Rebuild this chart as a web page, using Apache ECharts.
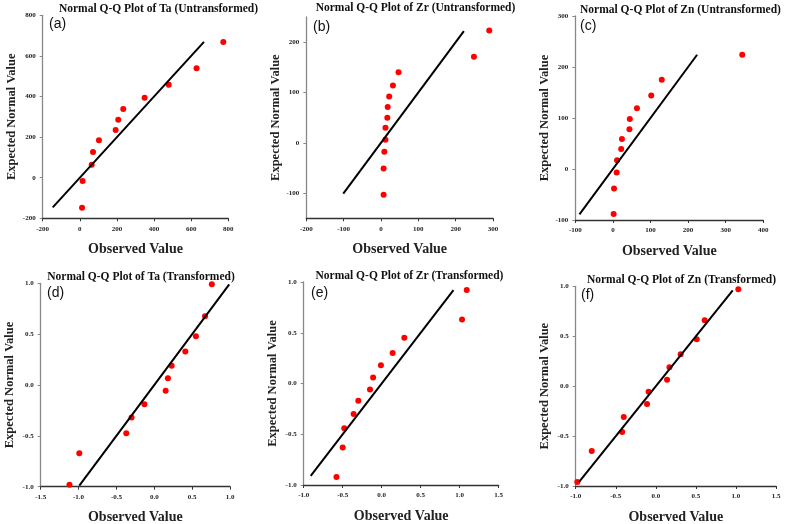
<!DOCTYPE html>
<html>
<head>
<meta charset="utf-8">
<script src="https://cdn.jsdelivr.net/npm/echarts@6/dist/echarts.min.js"></script>
<style>
html,body{margin:0;padding:0;background:#fff;}
#main{width:789px;height:524px;}
</style>
</head>
<body>
<div id="main"></div>
<script>
// ---- Data ----
var taUntransObs = [12, 15, 64, 71, 103, 193, 207, 234, 349, 479, 629, 773];
var taUntransExp = [-148, -16, 64, 127, 184, 235, 286, 339, 394, 458, 539, 669];
var taUntransLine = [-146, 669];

var zrUntransObs = [7, 7, 9, 12, 12, 17, 18, 22, 32, 47, 249, 290];
var zrUntransExp = [-103, -51, -18, 6, 30, 50, 71, 92, 114, 140, 171, 223];
var zrUntransLine = [-101, 222];

var znUntransObs = [2, 3, 10, 11, 22, 24, 44, 45, 64, 102, 130, 344];
var znUntransExp = [-88, -38, -7, 17, 39, 59, 78, 98, 119, 144, 175, 224];
var znUntransLine = [-89, 224];

var taTransObs = [-1.12, -0.99, -0.37, -0.30, -0.13, 0.15, 0.18, 0.23, 0.41, 0.55, 0.67, 0.76];
var taTransExp = [-0.98, -0.67, -0.475, -0.32, -0.19, -0.056, 0.066, 0.19, 0.33, 0.48, 0.675, 0.99];
var taTransLine = [-0.99, 0.99];

var zrTransObs = [-0.58, -0.50, -0.48, -0.36, -0.30, -0.15, -0.11, -0.01, 0.14, 0.29, 1.03, 1.09];
var zrTransExp = [-0.92, -0.63, -0.44, -0.30, -0.17, -0.06, 0.06, 0.18, 0.30, 0.45, 0.63, 0.92];
var zrTransLine = [-0.91, 0.92];

var znTransObs = [-0.98, -0.80, -0.42, -0.40, -0.11, -0.09, 0.14, 0.17, 0.31, 0.51, 0.61, 1.03];
var znTransExp = [-0.96, -0.65, -0.46, -0.31, -0.18, -0.055, 0.065, 0.19, 0.32, 0.47, 0.66, 0.97];
var znTransLine = [-0.96, 0.96];

// ---- Tick labels ----
var taUntransXTicks = [-200, 0, 200, 400, 600, 800];
var taUntransYTicks = [-200, 0, 200, 400, 600, 800];
var zrUntransXTicks = [-200, -100, 0, 100, 200, 300];
var zrUntransYTicks = [-100, 0, 100, 200];
var znUntransXTicks = [-100, 0, 100, 200, 300, 400];
var znUntransYTicks = [-100, 0, 100, 200, 300];
var taTransXTicks = [-1.5, -1.0, -0.5, 0.0, 0.5, 1.0];
var transXTicks = [-1.0, -0.5, 0.0, 0.5, 1.0, 1.5];
var transYTicks = [-1.0, -0.5, 0.0, 0.5, 1.0];

var titles = [
  'Normal Q-Q Plot of Ta (Untransformed)',
  'Normal Q-Q Plot of Zr (Untransformed)',
  'Normal Q-Q Plot of Zn (Untransformed)',
  'Normal Q-Q Plot of Ta (Transformed)',
  'Normal Q-Q Plot of Zr (Transformed)',
  'Normal Q-Q Plot of Zn (Transformed)'
];
var panelLabels = ['(a)', '(b)', '(c)', '(d)', '(e)', '(f)'];
var xName = 'Observed Value';
var yName = 'Expected Normal Value';

// ---- Layout ----
var panels = [
  {grid: [42.7, 15.3, 185.6, 203], xr: [-200, 800], yr: [-200, 800], xt: taUntransXTicks, yt: taUntransYTicks, obs: taUntransObs, exp: taUntransExp, line: taUntransLine, dec: 0, title: [158.5, 9], lab: [49, 24]},
  {grid: [306.3, 17, 186.7, 201.3], xr: [-200, 300], yr: [-150, 250], xt: zrUntransXTicks, yt: zrUntransYTicks, obs: zrUntransObs, exp: zrUntransExp, line: zrUntransLine, dec: 0, title: [415.5, 8], lab: [313, 27]},
  {grid: [575.3, 16, 188, 204], xr: [-100, 400], yr: [-100, 300], xt: znUntransXTicks, yt: znUntransYTicks, obs: znUntransObs, exp: znUntransExp, line: znUntransLine, dec: 0, title: [680.5, 10], lab: [580, 26]},
  {grid: [40.7, 283.3, 189.3, 203.4], xr: [-1.5, 1.0], yr: [-1, 1], xt: taTransXTicks, yt: transYTicks, obs: taTransObs, exp: taTransExp, line: taTransLine, dec: 1, title: [141, 277], lab: [47, 293]},
  {grid: [303.7, 282, 195, 203], xr: [-1.0, 1.5], yr: [-1, 1], xt: transXTicks, yt: transYTicks, obs: zrTransObs, exp: zrTransExp, line: zrTransLine, dec: 1, title: [409.5, 276], lab: [311, 293]},
  {grid: [575.7, 286.3, 200.3, 199.7], xr: [-1.0, 1.5], yr: [-1, 1], xt: transXTicks, yt: transYTicks, obs: znTransObs, exp: znTransExp, line: znTransLine, dec: 1, title: [681.5, 280], lab: [581, 295]}
];

var serif = '"Liberation Serif", "Times New Roman", serif';
var grids = [], xAxes = [], yAxes = [], series = [], graphics = [];

panels.forEach(function (p, i) {
  grids.push({left: p.grid[0], top: p.grid[1], width: p.grid[2], height: p.grid[3], containLabel: false, outerBoundsMode: 'none'});
  var fmt = (function (d) { return function (v) { return Number(v).toFixed(d); }; })(p.dec);
  xAxes.push({
    type: 'value', gridIndex: i, min: p.xr[0], max: p.xr[1],
    name: xName, nameLocation: 'middle', nameGap: 24,
    nameTextStyle: {fontFamily: serif, fontWeight: 'bold', fontSize: 14, color: '#222'},
    splitLine: {show: false},
    axisLine: {show: true, onZero: false, lineStyle: {color: '#333', width: 1.3}},
    axisTick: {show: true, length: 3, customValues: p.xt, lineStyle: {color: '#333'}},
    axisLabel: {customValues: p.xt, formatter: fmt, margin: 7, fontFamily: serif, fontWeight: 'bold', fontSize: 7, color: '#222', showMinLabel: true, showMaxLabel: true}
  });
  yAxes.push({
    type: 'value', gridIndex: i, min: p.yr[0], max: p.yr[1],
    name: yName, nameLocation: 'middle', nameGap: 24, nameRotate: 90,
    nameTextStyle: {fontFamily: serif, fontWeight: 'bold', fontSize: 12.5, color: '#222'},
    splitLine: {show: false},
    axisLine: {show: true, onZero: false, lineStyle: {color: '#888', width: 1.3}},
    axisTick: {show: true, length: 3, customValues: p.yt, lineStyle: {color: '#888'}},
    axisLabel: {customValues: p.yt, formatter: fmt, margin: 7, fontFamily: serif, fontWeight: 'bold', fontSize: 7, color: '#222', showMinLabel: true, showMaxLabel: true}
  });
  series.push({
    type: 'line', xAxisIndex: i, yAxisIndex: i,
    data: [[p.line[0], p.line[0]], [p.line[1], p.line[1]]],
    symbol: 'none', silent: true, animation: false,
    lineStyle: {color: '#000', width: 2}
  });
  series.push({
    type: 'scatter', xAxisIndex: i, yAxisIndex: i,
    data: p.obs.map(function (v, k) { return [v, p.exp[k]]; }),
    symbol: 'circle', symbolSize: 6, animation: false,
    itemStyle: {color: '#ff0000', opacity: 1}
  });
  graphics.push({
    type: 'text', x: p.title[0], y: p.title[1],
    style: {text: titles[i], font: 'bold 11.5px ' + serif, fill: '#111', align: 'center', verticalAlign: 'middle'}
  });
  graphics.push({
    type: 'text', x: p.lab[0], y: p.lab[1],
    style: {text: panelLabels[i], font: '14px "Liberation Sans", Arial, sans-serif', fill: '#111', align: 'left', verticalAlign: 'middle'}
  });
});

var chart = echarts.init(document.getElementById('main'), null, {renderer: 'canvas'});
chart.setOption({
  animation: false,
  backgroundColor: '#fff',
  grid: grids,
  xAxis: xAxes,
  yAxis: yAxes,
  series: series,
  graphic: graphics
});
</script>
</body>
</html>
